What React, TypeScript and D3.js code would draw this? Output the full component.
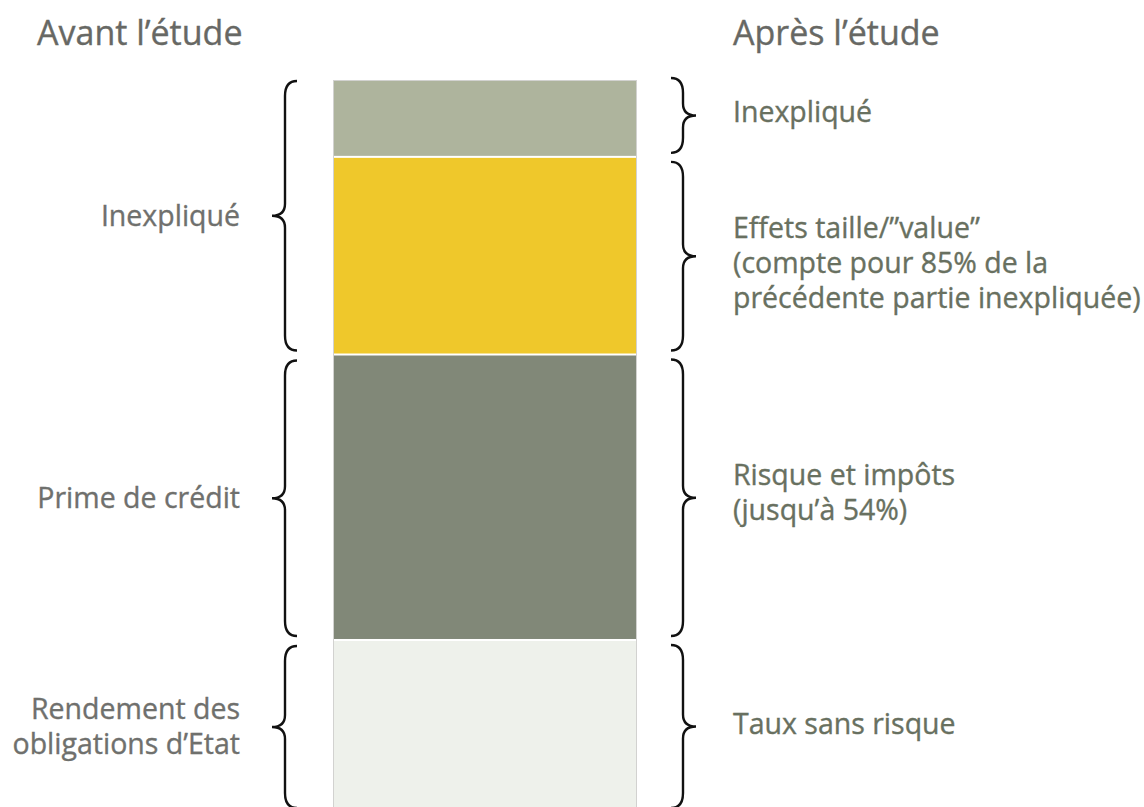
import React from 'react'
import * as d3 from 'd3'

// segments of the single stacked bar, listed top to bottom
const segments = ['Inexpliqué', 'Effets taille', 'Risque et impôts', 'Taux sans risque']
const segmentValues = [10.5, 27, 39, 23.5]
const segmentColors = ['#aeb49d', '#efc82b', '#818878', '#eef1eb']

const headings = ['Avant l’étude', 'Après l’étude']

// left side: groups of segments (first, last index) and their labels
const leftSpans = [[0, 1], [2, 2], [3, 3]]
const leftLabels = [['Inexpliqué'], ['Prime de crédit'], ['Rendement des', 'obligations d’Etat']]

// right side: one label per segment
const rightLabels = [
  ['Inexpliqué'],
  ['Effets taille/”value”', '(compte pour 85% de la', 'précédente partie inexpliquée)'],
  ['Risque et impôts', '(jusqu’à 54%)'],
  ['Taux sans risque'],
]

const width = 1144, height = 807
const barX0 = 333, barX1 = 637
const barTop = 80, barBottom = 812
const font = '"Open Sans", sans-serif'
const lineH = 35
// small vertical nudges of the right-hand label blocks
const rightNudge = [-3, 7, -5, -2]

function bracePath(xs: number, y0: number, y1: number, dir: number) {
  const e = -dir * 12, t = dir * 13
  const ym = (y0 + y1) / 2
  const r = 15, r2 = 12
  const p = d3.path()
  p.moveTo(xs + e, y0)
  p.quadraticCurveTo(xs, y0, xs, y0 + r)
  p.lineTo(xs, ym - r2)
  p.quadraticCurveTo(xs, ym, xs + t, ym)
  p.quadraticCurveTo(xs, ym, xs, ym + r2)
  p.lineTo(xs, y1 - r)
  p.quadraticCurveTo(xs, y1, xs + e, y1)
  return p.toString()
}

export default function App() {
  const total = d3.sum(segmentValues)
  const y = d3.scaleLinear().domain([0, total]).range([barTop, barBottom])
  const starts = segmentValues.map((_, i) => d3.sum(segmentValues.slice(0, i)))
  const ends = starts.map((s, i) => s + segmentValues[i])

  const labelBlock = (lines: string[], cy: number, x: number, anchor: string, color: string, key: string) =>
    lines.map((l, j) => (
      <text key={key + j} x={x} y={cy + (j - (lines.length - 1) / 2) * lineH + 10}
        textAnchor={anchor} fontFamily={font} fontSize={28.5} fill={color}
        stroke={color} strokeWidth={0.35}>{l}</text>
    ))

  return (
    <svg width={width} height={height} style={{ position: 'absolute', left: 0, top: 0, background: '#fff' }}>
      <text x={37} y={45} fontFamily={font} fontSize={34} fill="#676864" stroke="#676864" strokeWidth={0.35}>{headings[0]}</text>
      <text x={733} y={45} fontFamily={font} fontSize={34} fill="#676864" stroke="#676864" strokeWidth={0.35}>{headings[1]}</text>

      {segments.map((s, i) => (
        <rect key={s} x={barX0 + 1} width={barX1 - barX0 - 2}
          y={y(starts[i]) + 1} height={y(ends[i]) - y(starts[i]) - 2}
          fill={segmentColors[i]} />
      ))}
      <rect x={barX0 + 0.5} y={barTop + 0.5} width={barX1 - barX0 - 1} height={barBottom - barTop}
        fill="none" stroke="#d2d2d0" strokeWidth={1} />

      {leftSpans.map(([a, b], i) => {
        const y0 = y(starts[a]) + (a === 0 ? 1 : 6), y1 = y(ends[b]) - 4
        return (
          <g key={'l' + i}>
            <path d={bracePath(285, y0, y1, -1)} fill="none" stroke="#111" strokeWidth={2.4} />
            {labelBlock(leftLabels[i], (y0 + y1) / 2, 240, 'end', '#6f706d', 'll' + i)}
          </g>
        )
      })}

      {segments.map((s, i) => {
        const y0 = y(starts[i]) + (i === 0 ? -2 : 5), y1 = y(ends[i]) - 4
        return (
          <g key={'r' + i}>
            <path d={bracePath(683, y0, y1, 1)} fill="none" stroke="#111" strokeWidth={2.4} />
            {labelBlock(rightLabels[i], (y0 + y1) / 2 + rightNudge[i], 733, 'start', '#687060', 'rl' + i)}
          </g>
        )
      })}
    </svg>
  )
}
